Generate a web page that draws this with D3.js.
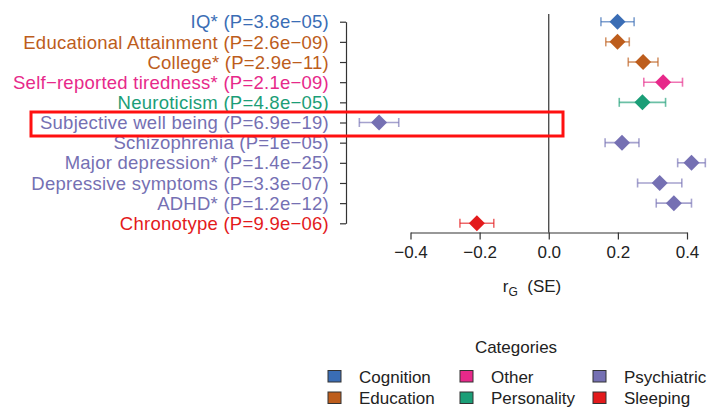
<!DOCTYPE html>
<html>
<head>
<meta charset="utf-8">
<script src="https://cdn.jsdelivr.net/npm/d3@7"></script>
<style>
  body { margin: 0; background: #fff; }
  svg { font-family: "Liberation Sans", Arial, Helvetica, sans-serif; }
</style>
</head>
<body>
<svg id="chart"></svg>
<script>
// Chart data
const traits = ["IQ*", "Educational Attainment", "College*", "Self−reported tiredness*", "Neuroticism",
  "Subjective well being", "Schizophrenia", "Major depression*", "Depressive symptoms", "ADHD*", "Chronotype"];
const pvalues = ["3.8e−05", "2.6e−09", "2.9e−11", "2.1e−09", "4.8e−05", "6.9e−19", "1e−05", "1.4e−25", "3.3e−07", "1.2e−12", "9.9e−06"];
const traitCategory = ["Cognition", "Education", "Education", "Other", "Personality",
  "Psychiatric", "Psychiatric", "Psychiatric", "Psychiatric", "Psychiatric", "Sleeping"];
const rg = [0.199, 0.199, 0.273, 0.331, 0.271, -0.491, 0.212, 0.413, 0.321, 0.362, -0.208];
const se = [0.048, 0.034, 0.043, 0.056, 0.067, 0.057, 0.049, 0.040, 0.064, 0.051, 0.049];
const xTicks = [-0.4, -0.2, 0.0, 0.2, 0.4];
const categories = ["Cognition", "Education", "Other", "Personality", "Psychiatric", "Sleeping"];
const categoryColors = ["#3a6db5", "#bd5d1c", "#e7298a", "#1b9e77", "#7570b3", "#e31a1c"];
const highlighted = "Subjective well being";

const width = 710, height = 407;

const svg = d3.select("#chart")
  .attr("width", width)
  .attr("height", height);

const color = d3.scaleOrdinal().domain(categories).range(categoryColors);

const x = d3.scaleLinear().domain([-0.4, 0.4]).range([410.5, 687]);
const y = d3.scalePoint().domain(traits).range([21.7, 223.3]);

const rows = traits.map((t, i) => ({
  trait: t, p: pvalues[i], cat: traitCategory[i], rg: rg[i], se: se[i]
}));

// zero line
svg.append("line")
  .attr("x1", x(0)).attr("x2", x(0))
  .attr("y1", 14).attr("y2", 232.5)
  .attr("stroke", "#333").attr("stroke-width", 1.2);

// y axis (ticks only, labels drawn separately)
const yAxis = svg.append("g")
  .attr("transform", "translate(346,0)")
  .call(d3.axisLeft(y).tickSize(6).tickSizeOuter(0).tickFormat(""));
yAxis.selectAll("path, line").attr("stroke", "#333").attr("stroke-width", 1.2);

// trait labels
svg.append("g").selectAll("text")
  .data(rows)
  .join("text")
  .attr("x", 329)
  .attr("y", d => y(d.trait))
  .attr("dy", "0.36em")
  .attr("text-anchor", "end")
  .attr("font-size", 18.5)
  .attr("letter-spacing", 0.25)
  .attr("fill", d => color(d.cat))
  .text(d => `${d.trait} (P=${d.p})`);

// x axis
const xAxis = svg.append("g")
  .attr("transform", "translate(0,232.5)")
  .call(d3.axisBottom(x).tickValues(xTicks).tickSize(7).tickSizeOuter(0)
    .tickFormat(d => d3.format(".1f")(d).replace("-", "−")));
xAxis.select(".domain").attr("stroke", "#333").attr("stroke-width", 1.2);
xAxis.selectAll(".tick line").attr("stroke", "#333").attr("stroke-width", 1.2);
xAxis.selectAll(".tick text")
  .attr("font-size", 17)
  .attr("fill", "#222")
  .attr("y", 13)
  .attr("dy", "0.71em");
xAxis.attr("font-family", null);

// axis title
const title = svg.append("text")
  .attr("x", 532)
  .attr("y", 292)
  .attr("text-anchor", "middle")
  .attr("font-size", 17)
  .attr("fill", "#222");
title.append("tspan").text("r");
title.append("tspan").attr("font-size", 12).attr("dy", 4).text("G");
title.append("tspan").attr("dy", -4).text("\u00a0\u00a0(SE)");

// error bars
const bars = svg.append("g").selectAll("g")
  .data(rows)
  .join("g")
  .attr("stroke", d => color(d.cat))
  .attr("stroke-opacity", 0.65)
  .attr("stroke-width", 1.6);
bars.append("line")
  .attr("x1", d => x(d.rg - d.se)).attr("x2", d => x(d.rg + d.se))
  .attr("y1", d => y(d.trait)).attr("y2", d => y(d.trait));
bars.append("line")
  .attr("x1", d => x(d.rg - d.se)).attr("x2", d => x(d.rg - d.se))
  .attr("y1", d => y(d.trait) - 4.5).attr("y2", d => y(d.trait) + 4.5);
bars.append("line")
  .attr("x1", d => x(d.rg + d.se)).attr("x2", d => x(d.rg + d.se))
  .attr("y1", d => y(d.trait) - 4.5).attr("y2", d => y(d.trait) + 4.5);

// diamonds
const r = 8;
svg.append("g").selectAll("path")
  .data(rows)
  .join("path")
  .attr("transform", d => `translate(${x(d.rg)},${y(d.trait)})`)
  .attr("d", `M0,${-r}L${r},0L0,${r}L${-r},0Z`)
  .attr("fill", d => color(d.cat));

// highlight box
svg.append("rect")
  .attr("x", 31)
  .attr("y", y(highlighted) - 10.5)
  .attr("width", 532)
  .attr("height", 24)
  .attr("fill", "none")
  .attr("stroke", "#ff1010")
  .attr("stroke-width", 3);

// legend
const legend = svg.append("g");
legend.append("text")
  .attr("x", 516).attr("y", 353)
  .attr("text-anchor", "middle")
  .attr("font-size", 17)
  .attr("fill", "#222")
  .text("Categories");

const colX = [328, 460, 593];
const rowY = [376.5, 398];
const items = legend.selectAll("g.item")
  .data(categories)
  .join("g")
  .attr("class", "item")
  .attr("transform", (d, i) => `translate(${colX[Math.floor(i / 2)]},${rowY[i % 2]})`);
items.append("rect")
  .attr("x", 0).attr("y", -6)
  .attr("width", 13).attr("height", 11.5)
  .attr("fill", d => color(d))
  .attr("stroke", "#333")
  .attr("stroke-width", 1);
items.append("text")
  .attr("x", 31)
  .attr("y", 0)
  .attr("dy", "0.36em")
  .attr("font-size", 17)
  .attr("fill", "#222")
  .text(d => d);
</script>
</body>
</html>
